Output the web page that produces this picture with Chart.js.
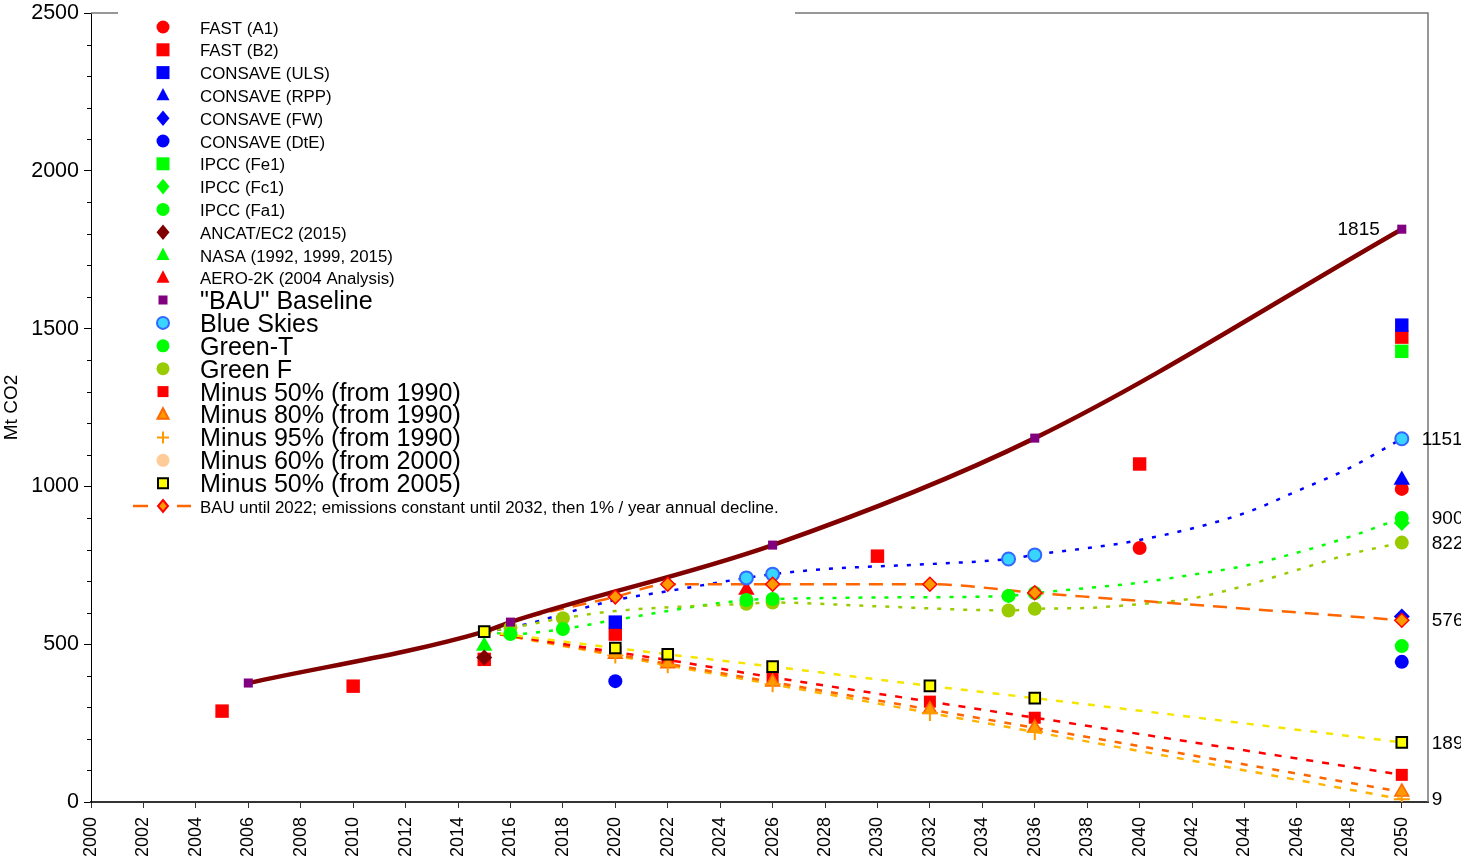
<!DOCTYPE html>
<html><head><meta charset="utf-8">
<script src="https://cdn.jsdelivr.net/npm/chart.js@4.4.0/dist/chart.umd.min.js"></script>
<style>html,body{margin:0;padding:0;background:#fff;}#wrap{width:1461px;height:858px;}</style>
</head><body><div id="wrap"><canvas id="c" width="1461" height="858"></canvas></div>
<script>
// ---------- DATA (year, Mt CO2) ----------
const xTicksMin = 2000, xTicksMax = 2051, xStep = 2;
const yMin = 0, yMax = 2500, yStep = 500, yMinorStep = 100;

const fastA1     = [[2040,805],[2050,992]];
const fastB2     = [[2005,288],[2010,367],[2015,452],[2020,532],[2030,779],[2040,1071],[2050,1473]];
const consaveULS = [[2020,570],[2050,1511]];
const consaveRPP = [[2050,1020]];
const consaveFW  = [[2050,588]];
const consaveDtE = [[2020,383],[2050,444]];
const ipccFe1    = [[2050,1428]];
const ipccFc1    = [[2050,884]];
const ipccFa1    = [[2050,494]];
const ancat      = [[2015,458]];
const nasa       = [[2015,494]];
const aero2k     = [[2025,672]];

const bauLine    = [[2006,377],[2015,540],[2016,570],[2026,814],[2036,1153],[2050,1815]];
const bauMarks   = [[2006,377],[2015,540],[2016,570],[2026,814],[2036,1153],[2050,1815]];

const blueSkiesLine  = [[2015,540],[2016,552],[2020,640],[2022,668],[2025,710],[2026,722],[2028,738],[2032,754],[2035,770],[2036,783],[2040,830],[2044,915],[2046,985],[2048,1058],[2050,1151]];
const blueSkiesMarks = [[2025,710],[2026,722],[2035,770],[2036,783],[2050,1151]];

const greenTLine  = [[2015,540],[2016,532],[2018,548],[2020,577],[2025,640],[2026,643],[2030,648],[2035,653],[2036,662],[2038,678],[2040,695],[2042,720],[2044,748],[2046,790],[2048,840],[2050,900]];
const greenTMarks = [[2016,532],[2018,548],[2025,640],[2026,643],[2035,653],[2036,662],[2050,900]];

const greenFLine  = [[2015,540],[2016,552],[2018,582],[2020,605],[2025,628],[2026,632],[2030,620],[2035,607],[2036,612],[2038,615],[2040,627],[2042,645],[2044,685],[2046,735],[2048,785],[2050,822]];
const greenFMarks = [[2016,552],[2018,582],[2025,628],[2026,632],[2035,607],[2036,612],[2050,822]];

const minus50_1990 = [[2015,540],[2020,475],[2022,450],[2026,395],[2032,318],[2036,267],[2050,86]];
const minus80_1990 = [[2015,540],[2020,468],[2022,438],[2026,380],[2032,293],[2036,235],[2050,32]];
const minus95_1990 = [[2015,540],[2020,464],[2022,433],[2026,373],[2032,282],[2036,222],[2050,9]];
const minus60_2000 = [];
const minus50_2005 = [[2015,540],[2020,488],[2022,468],[2026,429],[2032,368],[2036,329],[2050,189]];

const bau2022 = [[2015,540],[2016,570],[2020,650],[2022,690],[2026,690],[2032,690],[2036,663],[2050,576]];
const bau2022Marks = [[2020,650],[2022,690],[2026,690],[2032,690],[2036,663],[2050,576]];

// value labels at the right side
const valueLabels = [
  {x:2050, y:1815, text:'1815', side:'left'},
  {x:2050, y:1151, text:'1151', side:'right'},
  {x:2050, y:900,  text:'900',  side:'right'},
  {x:2050, y:822,  text:'822',  side:'right'},
  {x:2050, y:576,  text:'576',  side:'right'},
  {x:2050, y:189,  text:'189',  side:'right'},
  {x:2050, y:9,    text:'9',    side:'right'}
];

const legendSmall = ['FAST (A1)','FAST (B2)','CONSAVE (ULS)','CONSAVE (RPP)','CONSAVE (FW)','CONSAVE (DtE)','IPCC (Fe1)','IPCC (Fc1)','IPCC (Fa1)','ANCAT/EC2 (2015)','NASA (1992, 1999, 2015)','AERO-2K (2004 Analysis)'];
const legendLarge = ['"BAU" Baseline','Blue Skies','Green-T','Green F','Minus 50% (from 1990)','Minus 80% (from 1990)','Minus 95% (from 1990)','Minus 60% (from 2000)','Minus 50% (from 2005)'];
const legendLast = 'BAU until 2022; emissions constant until 2032, then 1% / year annual decline.';

// ---------- STYLES ----------
const RED='#ff0000', BLUE='#0000ff', GREEN='#00ff00', DARKRED='#800000', PURPLE='#800080',
      YGREEN='#99cc00', ORANGE='#ff6600', LORANGE='#ff9900', PEACH='#ffcc99', YELLOW='#ffff00', GOLD='#ffb300';
const FONT = "'Liberation Sans', Arial, sans-serif";

const smallMarkers = [
  {s:'circle',c:RED},{s:'rect',c:RED},{s:'rect',c:BLUE},{s:'triangle',c:BLUE},{s:'diamond',c:BLUE},{s:'circle',c:BLUE},
  {s:'rect',c:GREEN},{s:'diamond',c:GREEN},{s:'circle',c:GREEN},{s:'diamond',c:DARKRED},{s:'triangle',c:GREEN},{s:'triangle',c:RED}
];
const largeMarkers = [
  {s:'rect',c:PURPLE,r:4.5},{s:'circle',c:'#38d6ff',b:'#3366ff',r:6},{s:'circle',c:GREEN},{s:'circle',c:YGREEN},
  {s:'rect',c:RED,r:5.5},{s:'triangle',c:LORANGE,b:ORANGE,r:5.5},{s:'plus',c:LORANGE,r:6},{s:'circle',c:PEACH},{s:'rect',c:YELLOW,b:'#000',r:5}
];

function marks(data, style, radius, fill, border, bw, order){
  return {data, showLine:false, pointStyle:style, pointRadius:radius, pointHoverRadius:radius,
    pointBackgroundColor:fill, pointBorderColor:border||fill, pointBorderWidth:bw||0, order};
}
function line(data, color, width, dash, order){
  return {data, pointRadius:0, borderColor:color, borderWidth:width, borderDash:dash,
    cubicInterpolationMode:'monotone', fill:false, order};
}

const datasets = [
  line(minus50_2005, '#f5e600', 2.5, [7,9], 30),
  line(minus50_1990, RED, 2.5, [7,9], 31),
  line(minus80_1990, ORANGE, 2.5, [7,9], 32),
  line(minus95_1990, GOLD, 2.5, [7,9], 33),
  line(greenFLine, YGREEN, 2.5, [4,9], 34),
  line(greenTLine, GREEN, 2.5, [4,9], 35),
  line(blueSkiesLine, BLUE, 2.5, [4,9], 36),
  line(bau2022, ORANGE, 2.5, [14,9], 29),
  line(bauLine, DARKRED, 4.5, [], 20),

  marks(fastB2, 'rect', 9.5, RED, RED, 0, 9),
  marks(fastA1, 'circle', 7, RED, RED, 0, 9),
  marks(consaveULS, 'rect', 9.5, BLUE, BLUE, 0, 8),
  marks(consaveRPP, 'triangle', 9.5, BLUE, BLUE, 0, 7),
  marks(consaveFW, 'rectRot', 8, BLUE, BLUE, 0, 7),
  marks(consaveDtE, 'circle', 7, BLUE, BLUE, 0, 7),
  marks(ipccFe1, 'rect', 9.5, GREEN, GREEN, 0, 7),
  marks(ipccFc1, 'rectRot', 8, GREEN, GREEN, 0, 8),
  marks(ipccFa1, 'circle', 7, GREEN, GREEN, 0, 7),
  marks(ancat, 'rectRot', 8, DARKRED, DARKRED, 0, 6),
  marks(nasa, 'triangle', 9.5, GREEN, GREEN, 0, 6),
  marks(aero2k, 'triangle', 9.5, RED, RED, 0, 7),
  marks(greenFMarks, 'circle', 7, YGREEN, YGREEN, 0, 6),
  marks(greenTMarks, 'circle', 7, GREEN, GREEN, 0, 5),
  marks(blueSkiesMarks, 'circle', 6.5, '#38d6ff', '#3366ff', 2, 4),
  marks(minus50_1990.slice(1), 'rect', 8.5, RED, RED, 0, 4),
  marks(minus80_1990.slice(1), 'triangle', 8, LORANGE, ORANGE, 1.5, 3),
  marks(minus95_1990.slice(1), 'cross', 8, LORANGE, LORANGE, 2, 2),
  marks(minus60_2000, 'circle', 6, PEACH, PEACH, 0, 3),
  marks(bau2022Marks, 'rectRot', 7, LORANGE, RED, 1.5, 2),
  marks(bauMarks, 'rect', 6.4, PURPLE, PURPLE, 0, 1.5),
  marks(minus50_2005, 'rect', 7.5, YELLOW, '#000', 2, 1)
];

function drawMarker(ctx, m, x, y, rDefault){
  const r = m.r || rDefault;
  ctx.save();
  ctx.fillStyle = m.c; ctx.strokeStyle = m.b || m.c; ctx.lineWidth = m.b ? 2 : 0;
  ctx.beginPath();
  if (m.s==='circle'){ ctx.arc(x,y,r,0,Math.PI*2); }
  else if (m.s==='rect'){ ctx.rect(x-r,y-r,2*r,2*r); }
  else if (m.s==='triangle'){ ctx.moveTo(x,y-r*1.15); ctx.lineTo(x+r,y+r*0.75); ctx.lineTo(x-r,y+r*0.75); ctx.closePath(); }
  else if (m.s==='diamond'){ ctx.moveTo(x,y-r*1.2); ctx.lineTo(x+r,y); ctx.lineTo(x,y+r*1.2); ctx.lineTo(x-r,y); ctx.closePath(); }
  else if (m.s==='plus'){ ctx.lineWidth=2; ctx.strokeStyle=m.c; ctx.moveTo(x-r,y); ctx.lineTo(x+r,y); ctx.moveTo(x,y-r); ctx.lineTo(x,y+r); ctx.stroke(); ctx.restore(); return; }
  ctx.fill();
  if (m.b) ctx.stroke();
  ctx.restore();
}

const decor = {
  id:'decor',
  afterDraw(chart){
    const ctx = chart.ctx, a = chart.chartArea, xs = chart.scales.x, ys = chart.scales.y;
    ctx.save();
    // frame: top and right
    ctx.strokeStyle = '#777'; ctx.lineWidth = 1.5;
    ctx.beginPath();
    ctx.moveTo(a.left, a.top); ctx.lineTo(118, a.top);
    ctx.moveTo(795, a.top); ctx.lineTo(a.right, a.top); ctx.lineTo(a.right, a.bottom);
    ctx.stroke();
    // minor ticks on y axis
    ctx.strokeStyle = '#000'; ctx.lineWidth = 1;
    ctx.beginPath();
    for (let v = yMin; v <= yMax; v += yMinorStep){
      if (v % yStep === 0) continue;
      const py = Math.round(ys.getPixelForValue(v)) + 0.5;
      ctx.moveTo(a.left - 4, py); ctx.lineTo(a.left, py);
    }
    ctx.stroke();
    // value labels
    ctx.fillStyle = '#000'; ctx.font = "19px " + FONT; ctx.textBaseline = 'middle';
    valueLabels.forEach(l => {
      const px = xs.getPixelForValue(l.x), py = ys.getPixelForValue(l.y);
      if (l.side === 'left'){ ctx.textAlign = 'right'; ctx.fillText(l.text, px - 22, py + 1); }
      else { ctx.textAlign = 'left'; ctx.fillText(l.text, l.text.length > 3 ? px + 20 : px + 30, py + 1); }
    });
    // legend
    const mx = 163, tx = 200;
    ctx.textAlign = 'left'; ctx.textBaseline = 'middle';
    ctx.font = "16.85px " + FONT;
    legendSmall.forEach((t,i) => {
      const y = 28 + i*22.8;
      drawMarker(ctx, smallMarkers[i], mx, y - 1, 6.5);
      ctx.fillStyle = '#000'; ctx.fillText(t, tx, y + 1);
    });
    ctx.font = "25.1px " + FONT;
    legendLarge.forEach((t,i) => {
      const y = 301 + i*22.9;
      drawMarker(ctx, largeMarkers[i], mx, y - 1, 6.5);
      ctx.fillStyle = '#000'; ctx.fillText(t, tx, y + 1);
    });
    const ly = 506;
    ctx.strokeStyle = ORANGE; ctx.lineWidth = 2.5;
    ctx.beginPath(); ctx.moveTo(133, ly); ctx.lineTo(148, ly); ctx.moveTo(177, ly); ctx.lineTo(191, ly); ctx.stroke();
    drawMarker(ctx, {s:'diamond', c:LORANGE, b:RED, r:5}, mx, ly, 5);
    ctx.font = "16.85px " + FONT;
    ctx.fillStyle = '#000'; ctx.fillText(legendLast, tx, ly + 2);
    ctx.restore();
  }
};

Chart.defaults.font.family = FONT;
Chart.defaults.color = '#000';

new Chart(document.getElementById('c'), {
  type:'line',
  data:{datasets},
  options:{
    responsive:false, animation:false, devicePixelRatio:1, events:[],
    layout:{padding:{top:13, right:33, left:0, bottom:0}},
    plugins:{legend:{display:false}, tooltip:{enabled:false}},
    scales:{
      x:{type:'linear', min:xTicksMin, max:xTicksMax,
        ticks:{stepSize:xStep, includeBounds:false, autoSkip:false, maxRotation:90, minRotation:90,
          font:{size:18}, color:'#000', padding:9, callback:v=>String(v)},
        grid:{drawOnChartArea:false, drawTicks:true, tickLength:6, color:'#333'},
        border:{color:'#333', width:2},
        afterFit(s){ s.height = 56; s.paddingLeft = 0; s.paddingRight = 0; }
      },
      y:{min:yMin, max:yMax,
        ticks:{stepSize:yStep, font:{size:21.5}, color:'#000', padding:5, callback:v=>String(v)},
        grid:{drawOnChartArea:false, drawTicks:true, tickLength:7, color:'#000'},
        border:{color:'#000', width:1},
        title:{display:true, text:'Mt CO2', font:{size:19}, color:'#000', padding:{top:0,bottom:0}},
        afterFit(s){ s.width = 91; s.paddingTop = 0; s.paddingBottom = 0; }
      }
    }
  },
  plugins:[decor]
});
</script>
</body></html>
